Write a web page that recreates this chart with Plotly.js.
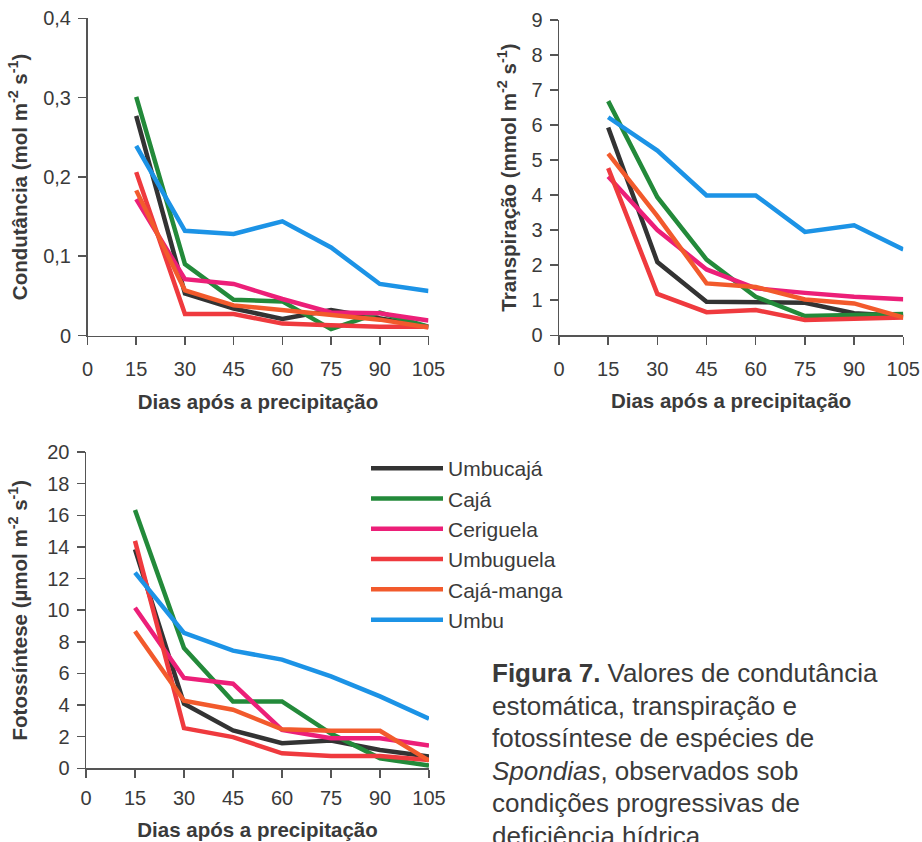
<!DOCTYPE html>
<html>
<head>
<meta charset="utf-8">
<script src="https://cdn.plot.ly/plotly-3.0.1.min.js"></script>
<style>html,body{margin:0;padding:0;background:#fff;}#chart{width:922px;height:842px;}</style>
</head>
<body>
<div id="chart"></div>
<script>
// ---- data ----
const dias = [15, 30, 45, 60, 75, 90, 105];
const especies = ["Umbucajá", "Cajá", "Ceriguela", "Umbuguela", "Cajá-manga", "Umbu"];
const cores = ["#333333", "#238a3a", "#ec1f78", "#ef3a3e", "#f25a2c", "#1c93e6"];

// Condutância (mol m-2 s-1)
const condUmbucaja  = [0.277, 0.053, 0.034, 0.021, 0.032, 0.022, 0.011];
const condCaja      = [0.301, 0.090, 0.045, 0.043, 0.008, 0.029, 0.011];
const condCeriguela = [0.172, 0.071, 0.065, 0.046, 0.029, 0.028, 0.019];
const condUmbuguela = [0.206, 0.027, 0.027, 0.015, 0.013, 0.011, 0.011];
const condCajaManga = [0.183, 0.057, 0.038, 0.032, 0.025, 0.020, 0.010];
const condUmbu      = [0.239, 0.132, 0.128, 0.144, 0.111, 0.065, 0.056];

// Transpiração (mmol m-2 s-1)
const trUmbucaja  = [5.93, 2.09, 0.96, 0.96, 0.93, 0.63, 0.55];
const trCaja      = [6.68, 3.94, 2.16, 1.10, 0.55, 0.58, 0.61];
const trCeriguela = [4.53, 3.00, 1.88, 1.34, 1.21, 1.10, 1.03];
const trUmbuguela = [4.77, 1.18, 0.66, 0.72, 0.44, 0.48, 0.51];
const trCajaManga = [5.18, 3.40, 1.48, 1.38, 1.02, 0.91, 0.51];
const trUmbu      = [6.22, 5.27, 3.99, 3.99, 2.95, 3.14, 2.45];

// Fotossíntese (µmol m-2 s-1)
const fotUmbucaja  = [13.85, 4.08, 2.39, 1.59, 1.75, 1.16, 0.74];
const fotCaja      = [16.34, 7.61, 4.23, 4.23, 2.20, 0.63, 0.17];
const fotCeriguela = [10.15, 5.71, 5.35, 2.43, 1.90, 1.90, 1.44];
const fotUmbuguela = [14.38, 2.54, 1.97, 0.95, 0.78, 0.78, 0.53];
const fotCajaManga = [8.67, 4.27, 3.70, 2.47, 2.37, 2.37, 0.49];
const fotUmbu      = [12.37, 8.56, 7.44, 6.87, 5.81, 4.55, 3.13];

const xTicks = [0, 15, 30, 45, 60, 75, 90, 105];

// ---- build ----
const panels = [
  {x: "x",  y: "y",  series: [condUmbucaja, condCaja, condCeriguela, condUmbuguela, condCajaManga, condUmbu], legend: true},
  {x: "x2", y: "y2", series: [trUmbucaja, trCaja, trCeriguela, trUmbuguela, trCajaManga, trUmbu], legend: false},
  {x: "x3", y: "y3", series: [fotUmbucaja, fotCaja, fotCeriguela, fotUmbuguela, fotCajaManga, fotUmbu], legend: false}
];

const traces = [];
panels.forEach(p => {
  p.series.forEach((vals, i) => {
    traces.push({
      type: "scatter", mode: "lines",
      x: dias, y: vals,
      xaxis: p.x, yaxis: p.y,
      name: especies[i],
      legendgroup: especies[i],
      showlegend: p.legend,
      line: {color: cores[i], width: 4.5},
      hoverinfo: "skip"
    });
  });
});

const txt = "#3a3a3a";
const fontFam = "Liberation Sans, Arial, sans-serif";

function xAxis(domain, anchor, labelPad, titlePad) {
  return {
    domain: domain, anchor: anchor, range: [0, 105],
    tickvals: xTicks, ticktext: xTicks.map(String),
    showline: true, linecolor: "#555", linewidth: 1.5,
    ticks: "outside", ticklen: 8, tickwidth: 1.5, tickcolor: "#555",
    ticklabelstandoff: labelPad,
    showgrid: false, zeroline: false,
    tickfont: {size: 20, color: txt, family: fontFam},
    title: {text: "<b>Dias após a precipitação</b>", font: {size: 20.5, color: txt, family: fontFam}, standoff: titlePad}
  };
}
function yAxis(domain, anchor, range, dtick, title, titlePad) {
  return {
    domain: domain, anchor: anchor, range: range, dtick: dtick, tick0: 0,
    showline: true, linecolor: "#555", linewidth: 1.5,
    ticks: "outside", ticklen: 8, tickwidth: 1.5, tickcolor: "#555",
    ticklabelstandoff: 3,
    showgrid: false, zeroline: false,
    tickfont: {size: 20, color: txt, family: fontFam},
    title: {text: title, font: {size: 20.5, color: txt, family: fontFam}, standoff: titlePad}
  };
}

const captionLines = [
  "<b>Figura 7.</b> Valores de condutância",
  "estomática, transpiração e",
  "fotossíntese de espécies de",
  "<i>Spondias</i>, observados sob",
  "condições progressivas de",
  "deficiência hídrica."
];
const annotations = captionLines.map((t, k) => ({
  text: t, xref: "paper", yref: "paper",
  x: 490 / 922, xanchor: "left",
  y: (842 - (673 + k * 32.6)) / 842, yanchor: "middle",
  showarrow: false, align: "left",
  font: {size: 26, color: txt, family: fontFam}
}));

const layout = {
  width: 922, height: 842,
  margin: {l: 0, r: 0, t: 0, b: 0},
  paper_bgcolor: "#fff", plot_bgcolor: "#fff",
  separators: ",.",
  showlegend: true,
  font: {family: fontFam, color: txt},
  legend: {
    x: 366 / 922, y: (842 - 448) / 842, xanchor: "left", yanchor: "top",
    font: {size: 21, color: txt, family: fontFam},
    bgcolor: "rgba(0,0,0,0)", itemwidth: 72, tracegroupgap: 0,
    traceorder: "grouped"
  },
  xaxis:  xAxis([87.5 / 922, 428.5 / 922], "y", 7, 15),
  yaxis:  yAxis([(842 - 335.5) / 842, (842 - 18.3) / 842], "x", [0, 0.4], 0.1,
                "<b>Condutância (mol m<sup>-2</sup> s<sup>-1</sup>)</b>", 10),
  xaxis2: xAxis([559 / 922, 903.3 / 922], "y2", 7, 15),
  yaxis2: yAxis([(842 - 335.3) / 842, (842 - 19.8) / 842], "x2", [0, 9], 1,
                "<b>Transpiração (mmol m<sup>-2</sup> s<sup>-1</sup>)</b>", 9),
  xaxis3: xAxis([86 / 922, 429 / 922], "y3", 3, 15),
  yaxis3: yAxis([(842 - 768.3) / 842, (842 - 452) / 842], "x3", [0, 20], 2,
                "<b>Fotossíntese (µmol m<sup>-2</sup> s<sup>-1</sup>)</b>", 14),
  annotations: annotations
};

Plotly.newPlot("chart", traces, layout, {displayModeBar: false, staticPlot: true});
</script>
</body>
</html>
